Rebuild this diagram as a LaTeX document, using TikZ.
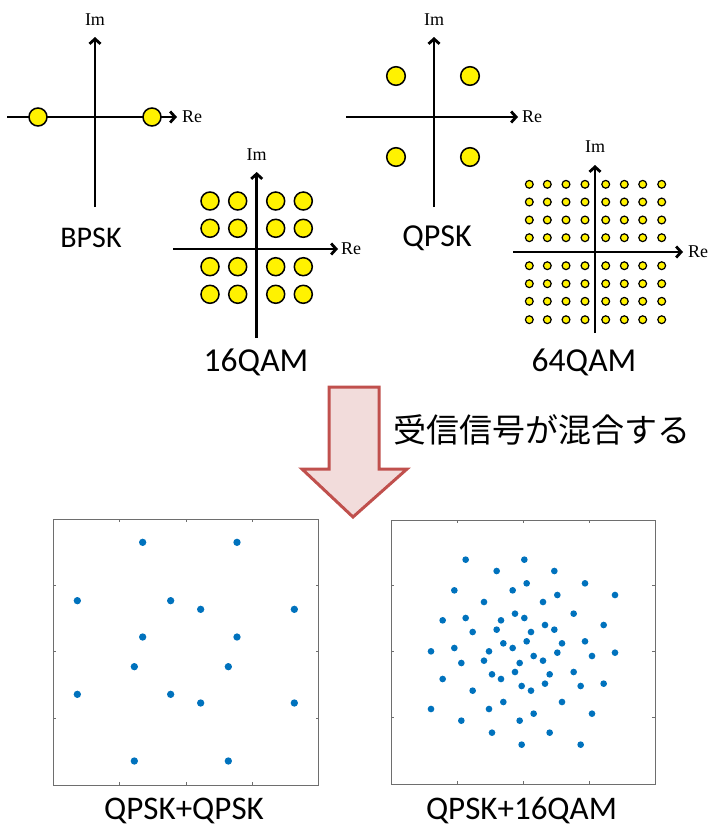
\documentclass[tikz,border=0pt]{standalone}
\usepackage{fontspec}
\setmainfont{Carlito}
\newfontfamily\serifimre{Liberation Serif}
\newfontfamily\cjk{Noto Sans CJK JP}
\usetikzlibrary{arrows.meta}
\definecolor{dotyellow}{RGB}{255,242,0}
\definecolor{mblue}{RGB}{0,114,189}
\definecolor{arrowred}{RGB}{192,80,77}
\definecolor{arrowfill}{RGB}{242,220,219}
\definecolor{boxgray}{RGB}{110,110,110}
\tikzset{
  axisline/.style={line width=2.8pt, -{Straight Barb[length=5pt,width=11pt]}},
  axlab/.style={font=\serifimre\fontsize{18}{18}\selectfont, inner sep=0pt},
  bigdot/.style={fill=dotyellow, draw=black, line width=1.5pt},
  smalldot/.style={fill=dotyellow, draw=black, line width=1.2pt},
  modlab/.style={font=\fontsize{#1}{#1}\selectfont, inner sep=0pt},
  modlab/.default=33.5,
  plotbox/.style={draw=boxgray, line width=1pt},
  tick/.style={draw=boxgray, line width=0.8pt},
  sdot/.style={fill=mblue},
}
\begin{document}
\begin{tikzpicture}[x=1pt,y=-1pt]
\useasboundingbox (0,0) rectangle (711,830);
% ---------- BPSK ----------
\draw[axisline] (7,117) -- (177,117);
\draw[axisline] (95,207) -- (95,37);
\node[axlab] (bIm) at (95,20) {Im};
\node[axlab, anchor=west] (bRe) at (182,117) {Re};
\foreach \x in {38,152} \draw[bigdot] (\x,117) circle[radius=9];
\node[modlab=30] (bpsk) at (91,238) {BPSK};
% ---------- QPSK ----------
\draw[axisline] (346,117) -- (518,117);
\draw[axisline] (434,207) -- (434,37);
\node[axlab] (qIm) at (434,20) {Im};
\node[axlab, anchor=west] (qRe) at (522,117) {Re};
\foreach \x in {396,470} \foreach \y in {76,157} \draw[bigdot] (\x,\y) circle[radius=9.3];
\node[modlab=32] (qpsk) at (437,238) {QPSK};
% ---------- 16QAM ----------
\draw[axisline] (173,249) -- (338,249);
\draw[axisline] (256.7,338) -- (256.7,172);
\node[axlab] (sIm) at (256.7,155) {Im};
\node[axlab, anchor=west] (sRe) at (341,249) {Re};
\foreach \x in {210,237.7,275.7,303.3} \foreach \y in {201,228.3,266.7,294.3} \draw[bigdot] (\x,\y) circle[radius=9];
\node[modlab] (qam16) at (256,362) {16QAM};
% ---------- 64QAM ----------
\draw[axisline] (513,252) -- (683,252);
\draw[axisline] (595,333) -- (595,165);
\node[axlab] (tIm) at (595,147) {Im};
\node[axlab, anchor=west] (tRe) at (688,252) {Re};
\foreach \x in {529.3,547.3,566,585,605.7,624.3,642.7,661.7}
  \foreach \y in {184.3,202,220,237.7,265.7,283.7,301.3,319.7}
    \draw[smalldot] (\x,\y) circle[radius=3.9];
\node[modlab] (qam64) at (584,362) {64QAM};
% ---------- big arrow ----------
\draw[draw=arrowred, fill=arrowfill, line width=3pt, line join=miter]
  (329,387) -- (379,387) -- (379,469) -- (407,469) -- (353,517) -- (302,469) -- (329,469) -- cycle;
\node[font=\cjk\fontsize{33}{33}\selectfont, inner sep=0pt] (mix) at (542,430) {受信信号が混合する};
% ---------- QPSK+QPSK plot ----------
\begin{scope}[shift={(50,510)}, scale=1/3]
  \draw[plotbox] (10,28) rectangle (806,825);
  \foreach \t in {208,408,607} {
    \draw[tick] (\t,28) -- (\t,36);
    \draw[tick] (\t,825) -- (\t,817);
  }
  \foreach \t in {225,425,625} {
    \draw[tick] (10,\t) -- (18,\t);
    \draw[tick] (806,\t) -- (798,\t);
  }
  \foreach \p in {(278,97),(561,97),(82,272),(362,272),(452,298),(733,298),
                  (278,381),(561,381),(253,470),(535,470),(82,553),(362,553),
                  (452,579),(733,579),(253,753),(535,753)}
    \fill[sdot] \p circle[radius=11];
\end{scope}
\node[modlab=33] (qq) at (184,811) {QPSK+QPSK};
% ---------- QPSK+16QAM plot ----------
\begin{scope}[shift={(385,510)}, scale=1/3]
  \draw[plotbox] (18,30) rectangle (810,822);
  \foreach \t in {217,415,612} {
    \draw[tick] (\t,30) -- (\t,38);
    \draw[tick] (\t,822) -- (\t,814);
  }
  \foreach \t in {225,425,623} {
    \draw[tick] (18,\t) -- (26,\t);
    \draw[tick] (810,\t) -- (802,\t);
  }
  \foreach \p in {(242,149),(418,149),(335,183),(508,183),(425,220),(600,220),
    (208,241),(383,241),(517,255),(690,255),(297,276),(474,276),(390,311),(566,311),
    (418,324),(173,331),(242,324),(348,331),(480,345),(656,345),(263,366),(335,359),
    (438,366),(508,359),(425,394),(600,394),(355,400),(531,400),(208,414),(383,414),
    (312,424),(517,428),(138,424),(690,428),(446,438),(621,438),(297,452),(474,452),
    (229,459),(404,459),(390,486),(566,486),(321,493),(494,493),(173,507),(348,507),
    (480,521),(656,521),(410,528),(587,528),(263,542),(438,542),(355,576),(531,576),
    (138,597),(312,597),(446,611),(621,611),(229,632),(404,632),(321,668),(494,668),
    (410,704),(587,704)}
    \fill[sdot] \p circle[radius=10];
\end{scope}
\node[modlab=33] (q16) at (521.5,811) {QPSK+16QAM};
\end{tikzpicture}
\end{document}
